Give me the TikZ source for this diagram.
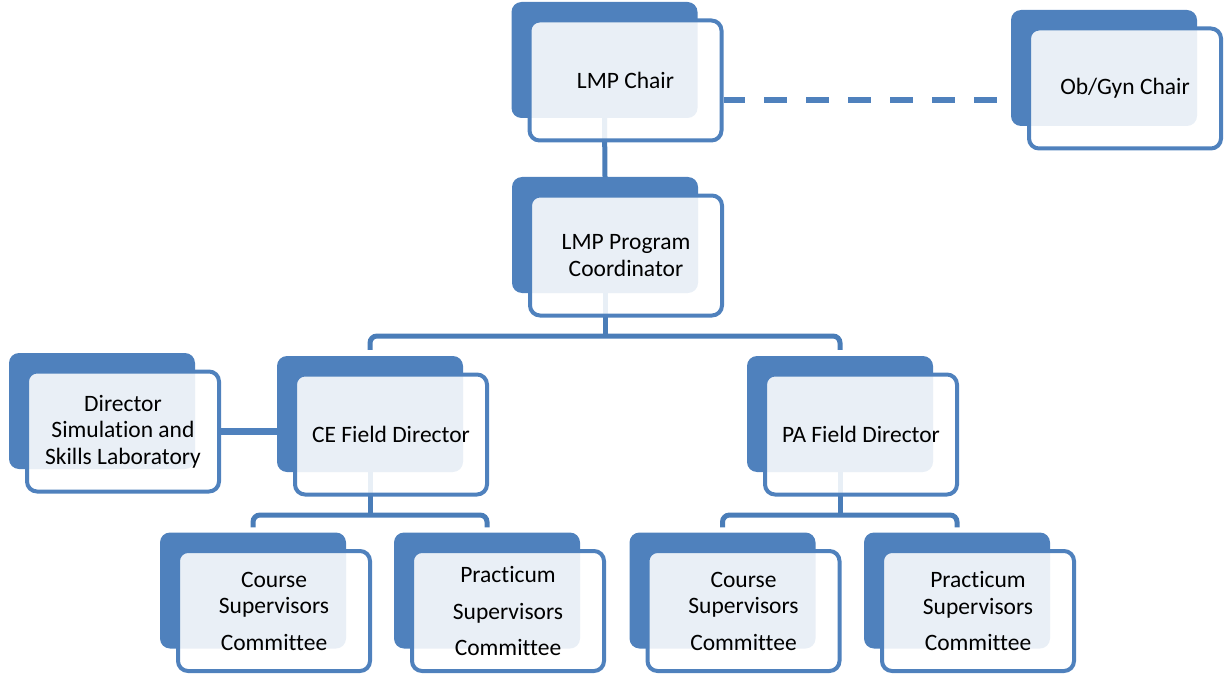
\documentclass[tikz,border=0pt]{standalone}
\usepackage{fontspec}
\setmainfont{Carlito}[Ligatures={NoCommon}]
\usetikzlibrary{backgrounds,calc}
\definecolor{sblue}{HTML}{4F81BD}
\definecolor{lblue}{HTML}{4A7DB8}
\tikzset{
  backbox/.style={rectangle, rounded corners=10pt, fill=sblue, draw=none,
    minimum width=186pt, minimum height=116pt, inner sep=0pt},
  frontbox/.style={rectangle, rounded corners=10pt, draw=sblue, line width=4pt,
    fill=white, fill opacity=0.88, text opacity=1, text=black,
    minimum width=192pt, minimum height=120pt, inner sep=2pt, align=center,
    font=\fontsize{23.5}{26.5}\selectfont},
  conn/.style={draw=lblue, line width=5pt, rounded corners=7pt},
  thickconn/.style={draw=sblue, line width=7.5pt},
  dashconn/.style={draw=sblue, line width=6pt, dash pattern=on 23pt off 19pt, dash phase=1.5pt}
}
\newcommand\orgunit[4]{%
  \node[backbox] (#1B) at (#2-21,#3-20.5) {};
  \node[frontbox] (#1) at (#2,#3) {#4};
}
\begin{document}
\begin{tikzpicture}[x=1pt,y=-1pt]
\useasboundingbox (0,0) rectangle (1224,674);
\orgunit{chair}{625.5}{80.5}{LMP Chair}
\orgunit{ob}{1125}{88.5}{Ob/Gyn Chair}
\orgunit{coord}{626}{255.5}{LMP Program\\Coordinator}
\orgunit{dir}{123}{431.5}{Director\\Simulation and\\Skills Laboratory}
\orgunit{ce}{391}{434.5}{CE Field Director}
\orgunit{pa}{861}{434.5}{PA Field Director}
\orgunit{csa}{274}{611}{Course\\Supervisors\\[10pt]Committee}
\orgunit{psa}{508}{611}{Practicum\\[10pt]Supervisors\\[10pt]Committee}
\orgunit{csb}{743.5}{611}{Course\\Supervisors\\[10pt]Committee}
\orgunit{psb}{978}{611}{Practicum\\Supervisors\\[10pt]Committee}
\begin{scope}[on background layer]
  \draw[dashconn] (chair.east |- 0,100) -- (obB.west |- 0,100);
  \draw[conn] (chairB.south) -- (coordB.north);
  \draw[conn] (coordB.south) -- (coordB.south |- 0,336);
  \draw[conn] ($(ceB.north)+(0,-6)$) -- (ceB.north |- 0,336) -- (paB.north |- 0,336) -- ($(paB.north)+(0,-6)$);
  \draw[thickconn] (dir.east) -- (ceB.west |- dir.east);
  \draw[conn] (ceB.south) -- (ceB.south |- 0,515);
  \draw[conn] ($(csaB.north)+(0,-5)$) -- (csaB.north |- 0,515) -- (psaB.north |- 0,515) -- ($(psaB.north)+(0,-5)$);
  \draw[conn] (paB.south) -- (paB.south |- 0,515);
  \draw[conn] ($(csbB.north)+(0,-5)$) -- (csbB.north |- 0,515) -- (psbB.north |- 0,515) -- ($(psbB.north)+(0,-5)$);
\end{scope}
\end{tikzpicture}
\end{document}
